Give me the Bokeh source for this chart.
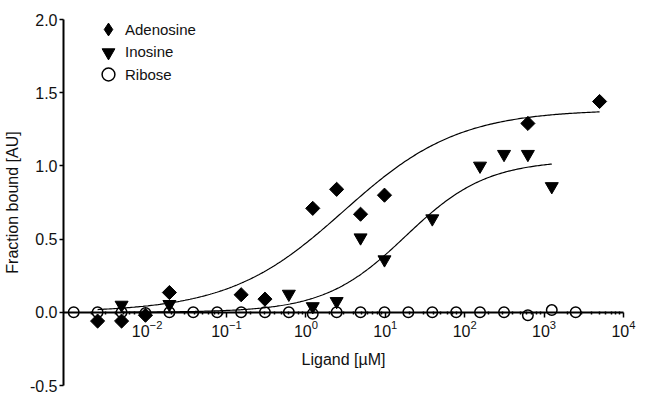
import numpy as np
from bokeh.plotting import figure
from bokeh.models import (FixedTicker, PrintfTickFormatter, Legend, LegendItem,
                          LogTickFormatter)
from bokeh.embed import file_html
from bokeh.resources import INLINE

# ---------------- data ----------------
# ligand concentrations in µM (2-fold serial dilution)
ribose_conc = [0.00119, 0.00238, 0.00477, 0.00954, 0.0191, 0.0381, 0.0763,
               0.153, 0.305, 0.610, 1.22, 2.44, 4.88, 9.77, 19.5, 39.1,
               78.1, 156, 313, 625, 1250, 2500]
ribose_vals = [0.0, 0.0, 0.0, -0.005, 0.0, 0.0, 0.0,
               0.0, 0.0, 0.0, -0.01, 0.0, 0.0, 0.0, 0.0, 0.0,
               0.0, 0.0, 0.0, -0.02, 0.015, 0.0]

adenosine_conc = [0.00238, 0.00477, 0.00954, 0.0191, 0.153, 0.305,
                  1.22, 2.44, 4.88, 9.77, 625, 5000]
adenosine_vals = [-0.06, -0.06, -0.02, 0.135, 0.12, 0.09,
                  0.71, 0.84, 0.67, 0.80, 1.29, 1.44]

inosine_conc = [0.00477, 0.0191, 0.610, 1.22, 2.44, 4.88,
                9.77, 39.1, 156, 313, 625, 1250]
inosine_vals = [0.05, 0.055, 0.125, 0.04, 0.075, 0.51,
                0.36, 0.64, 1.00, 1.08, 1.08, 0.86]

# fitted dose-response curves (bottom, top, EC50 [µM], Hill slope)
adenosine_fit = dict(bottom=0.0, top=1.385, ec50=3.0, hill=0.6)
inosine_fit = dict(bottom=0.0, top=1.04, ec50=18.0, hill=0.85)

series_names = ["Adenosine", "Inosine", "Ribose"]

x_ticks = [1e-2, 1e-1, 1e0, 1e1, 1e2, 1e3, 1e4]
y_ticks = [-0.5, 0.0, 0.5, 1.0, 1.5, 2.0]

X_START, X_AXIS_END, X_FRAME_END = 10 ** -3.053, 1e4, 10 ** 4.164

FONT = "Liberation Sans"
FRAME_H = 366


def fit_curve(c_lo, c_hi, bottom, top, ec50, hill):
    xs = np.logspace(np.log10(c_lo), np.log10(c_hi), 300)
    ys = bottom + (top - bottom) / (1 + 10 ** (hill * (np.log10(ec50) - np.log10(xs))))
    return xs, ys


p = figure(frame_width=573, frame_height=FRAME_H, x_axis_type="log",
           x_range=(X_START, X_FRAME_END), y_range=(-0.5, 2.0),
           output_backend="svg", toolbar_location=None,
           min_border_left=58, min_border_right=0,
           min_border_top=19, min_border_bottom=8)
p.outline_line_color = None
p.grid.visible = False
p.background_fill_color = "white"

# curves
ax, ay = fit_curve(adenosine_conc[0], adenosine_conc[-1], **adenosine_fit)
ix, iy = fit_curve(inosine_conc[0], inosine_conc[-1], **inosine_fit)
p.line(ax, ay, line_color="black", line_width=1.2)
p.line(ix, iy, line_color="black", line_width=1.2)

# points
r_rib = p.scatter(ribose_conc, ribose_vals, marker="circle", size=10.5,
                  fill_color=None, line_color="black", line_width=1.5)
r_ino = p.scatter(inosine_conc, inosine_vals, marker="inverted_triangle", size=13,
                  fill_color="black", line_color="black")
p.scatter(adenosine_conc, adenosine_vals, marker="square", size=10,
          angle=np.pi / 4, fill_color="black", line_color="black")
# legend proxy (a single NaN point, never drawn) so the legend shows a diamond
r_ade_leg = p.scatter(x=[float("nan")], y=[float("nan")], marker="diamond", size=16,
                      fill_color="black", line_color="black")

# axes
xa = p.xaxis[0]
xa.fixed_location = 0
xa.bounds = (X_START, X_AXIS_END)
xa.ticker = FixedTicker(ticks=x_ticks,
                        minor_ticks=[m * 10.0 ** e for e in range(-3, 4) for m in range(2, 10)])
xa.formatter = LogTickFormatter()
xa.axis_label = "Ligand [µM]"
xa.axis_line_width = 2
xa.axis_line_color = "black"
xa.major_tick_out = 5
xa.major_tick_in = 0
xa.major_tick_line_width = 1.5
xa.minor_tick_in = 1
xa.minor_tick_out = 2
xa.minor_tick_line_width = 1.5
xa.major_label_standoff = 3
xa.axis_label_standoff = 10

ya = p.yaxis[0]
ya.ticker = FixedTicker(ticks=y_ticks, minor_ticks=[])
ya.formatter = PrintfTickFormatter(format="%.1f")
ya.axis_label = "Fraction bound [AU]"
ya.axis_line_width = 2
ya.major_tick_out = 4
ya.major_tick_in = 0
ya.major_tick_line_width = 1.5
ya.major_label_standoff = 2
ya.axis_label_standoff = 6

for a in (xa, ya):
    a.major_label_text_font = FONT
    a.major_label_text_font_size = "16px"
    a.major_label_text_color = "#111111"
    a.axis_label_text_font = FONT
    a.axis_label_text_font_size = "16px"
    a.axis_label_text_font_style = "normal"
    a.axis_label_text_color = "#111111"

# one single-item legend per series, stacked with a 22.5 px pitch
GLYPH = 32
for k, (name, rend) in enumerate(zip(series_names, [r_ade_leg, r_ino, r_rib])):
    center_from_top = 10 + 22.5 * k
    vy = FRAME_H - (center_from_top - GLYPH / 2) - GLYPH
    leg = Legend(items=[LegendItem(label=name, renderers=[rend])],
                 location=(29, vy), margin=0, padding=0, spacing=0,
                 glyph_width=GLYPH, glyph_height=GLYPH, label_height=20,
                 label_standoff=1, border_line_color=None,
                 background_fill_alpha=0,
                 label_text_font=FONT, label_text_font_size="15px",
                 label_text_color="#111111")
    p.add_layout(leg)

open("out.html", "w").write(file_html(p, INLINE))
